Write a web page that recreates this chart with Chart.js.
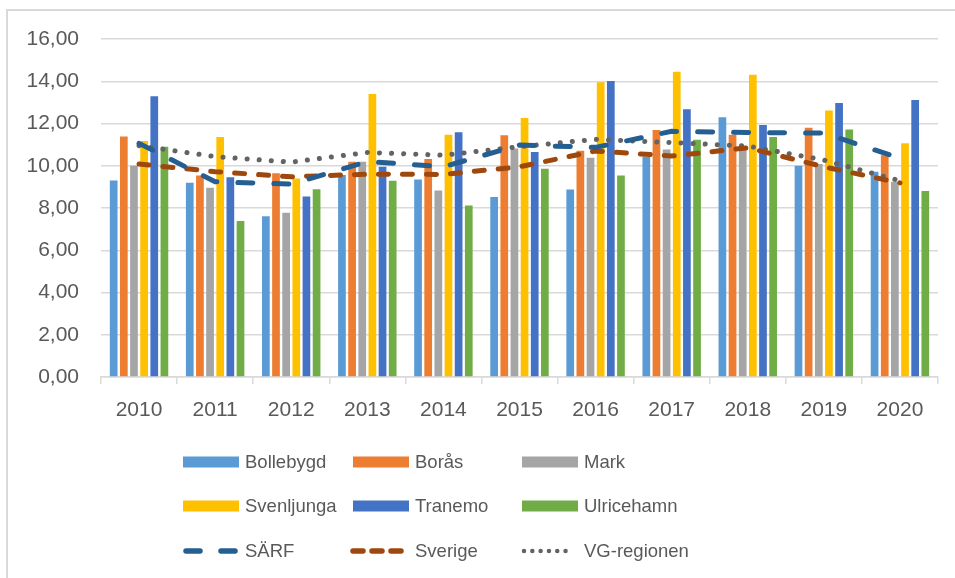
<!DOCTYPE html>
<html>
<head>
<meta charset="utf-8">
<script src="https://cdn.jsdelivr.net/npm/chart.js@4/dist/chart.umd.min.js"></script>
<style>
  body { margin: 0; background: #fff; overflow: hidden; font-family: "Liberation Sans", Arial, sans-serif; }
  #wrap { position: relative; width: 955px; height: 578px; }
  #frame { position: absolute; left: 6px; top: 9px; width: 2000px; height: 2000px;
           border-left: 2px solid #D9D9D9; border-top: 2px solid #D9D9D9; }
  #graf { position: absolute; left: 0; top: 0; }
  #legend { position: absolute; left: 0; top: 0; }
  .item { position: absolute; height: 24px; display: flex; align-items: center;
          font-size: 18.5px; color: #595959; white-space: nowrap; }
  .item svg { overflow: visible; margin-right: 6px; }
</style>
</head>
<body>
<div id="wrap">
  <div id="frame"></div>
  <canvas id="graf" width="955" height="578"></canvas>
  <div id="legend"></div>
</div>
<script>
  "use strict";

  const years = ['2010', '2011', '2012', '2013', '2014', '2015', '2016', '2017', '2018', '2019', '2020'];

  const bollebygd  = [9.30, 9.19, 7.61, 9.56, 9.35, 8.52, 8.88, 10.43, 12.29, 10.00, 9.72];
  const boras      = [11.39, 9.54, 9.64, 10.19, 10.32, 11.44, 10.71, 11.69, 11.47, 11.80, 10.50];
  const mark       = [10.00, 8.96, 7.77, 10.19, 8.83, 10.82, 10.38, 10.77, 10.74, 10.08, 9.24];
  const svenljunga = [11.17, 11.36, 9.40, 13.40, 11.47, 12.26, 13.95, 14.45, 14.31, 12.62, 11.06];
  const tranemo    = [13.29, 9.46, 8.55, 9.95, 11.58, 10.65, 14.01, 12.67, 11.93, 12.97, 13.11];
  const ulricehamn = [10.90, 7.38, 8.89, 9.29, 8.12, 9.86, 9.54, 11.23, 11.36, 11.72, 8.80];

  const sarf       = [11.06, 9.24, 9.13, 10.20, 9.95, 10.98, 10.87, 11.63, 11.57, 11.55, 10.35];
  const sverige    = [10.08, 9.72, 9.48, 9.60, 9.59, 9.95, 10.70, 10.46, 10.85, 9.95, 9.19];
  const vgRegionen = [10.95, 10.43, 10.17, 10.63, 10.50, 10.90, 11.25, 11.10, 10.93, 10.27, 9.29];

  const yTicks = [0, 2, 4, 6, 8, 10, 12, 14, 16];

  function barra(label, data, color) {
    return {
      type: 'bar', label: label, data: data, backgroundColor: color,
      borderWidth: 0, barPercentage: 0.76, categoryPercentage: 0.8, order: 2
    };
  }

  function linea(label, data, color, width, dash, legendDash) {
    return {
      type: 'line', label: label, data: data, borderColor: color, borderWidth: width,
      borderDash: dash, borderCapStyle: 'round', pointRadius: 0, fill: false,
      tension: 0, order: 1, legendDash: legendDash
    };
  }

  const datasets = [
    barra('Bollebygd', bollebygd, '#5B9BD5'),
    barra('Borås', boras, '#ED7D31'),
    barra('Mark', mark, '#A5A5A5'),
    barra('Svenljunga', svenljunga, '#FFC000'),
    barra('Tranemo', tranemo, '#4472C4'),
    barra('Ulricehamn', ulricehamn, '#70AD47'),
    linea('SÄRF', sarf, '#255E91', 5, [15, 21], { x1: 3, x2: 53, w: 5.5, dash: '14 21' }),
    linea('Sverige', sverige, '#9E480E', 5, [10, 14], { x1: 0, x2: 48, w: 5.5, dash: '10 9' }),
    linea('VG-regionen', vgRegionen, '#636363', 5, [0.1, 12], { x1: 2, x2: 44, w: 4.5, dash: '0.01 8.3' })
  ];

  new Chart(document.getElementById('graf').getContext('2d'), {
    data: { labels: years, datasets: datasets },
    options: {
      responsive: false,
      animation: false,
      devicePixelRatio: 1,
      layout: { padding: { left: 0, right: 17, top: 39, bottom: 151 } },
      plugins: { legend: { display: false }, tooltip: { enabled: false } },
      scales: {
        x: {
          grid: { drawOnChartArea: false, drawTicks: true, tickLength: 7, color: '#D9D9D9', lineWidth: 1.5 },
          border: { color: '#D9D9D9', width: 1.5 },
          ticks: { color: '#595959', font: { family: 'Liberation Sans', size: 21 }, padding: 14, maxRotation: 0 },
          afterFit: function (s) { s.height = 50; }
        },
        y: {
          min: 0, max: 16,
          afterBuildTicks: function (s) { s.ticks = yTicks.map(v => ({ value: v })); },
          ticks: {
            color: '#595959', font: { family: 'Liberation Sans', size: 21 }, padding: 22,
            callback: v => v.toFixed(2).replace('.', ',')
          },
          grid: { color: '#D9D9D9', lineWidth: 1.5, drawTicks: false },
          border: { display: false },
          afterFit: function (s) { s.width = 101; }
        }
      }
    }
  });

  // leyenda en 3 columnas, como en el original
  const colX = [183, 353, 522];
  const rowY = [462, 506, 551];
  const legend = document.getElementById('legend');
  const NS = 'http://www.w3.org/2000/svg';
  datasets.forEach(function (ds, i) {
    const item = document.createElement('div');
    item.className = 'item';
    item.style.left = colX[i % 3] + 'px';
    item.style.top = (rowY[Math.floor(i / 3)] - 12) + 'px';
    const svg = document.createElementNS(NS, 'svg');
    svg.setAttribute('width', '56');
    svg.setAttribute('height', '12');
    if (ds.type === 'bar') {
      const r = document.createElementNS(NS, 'rect');
      r.setAttribute('x', '0'); r.setAttribute('y', '0.5');
      r.setAttribute('width', '56'); r.setAttribute('height', '11');
      r.setAttribute('fill', ds.backgroundColor);
      svg.appendChild(r);
    } else {
      const d = ds.legendDash;
      const l = document.createElementNS(NS, 'line');
      l.setAttribute('x1', d.x1); l.setAttribute('x2', d.x2);
      l.setAttribute('y1', '6'); l.setAttribute('y2', '6');
      l.setAttribute('stroke', ds.borderColor);
      l.setAttribute('stroke-width', d.w);
      l.setAttribute('stroke-dasharray', d.dash);
      l.setAttribute('stroke-linecap', 'round');
      svg.appendChild(l);
    }
    item.appendChild(svg);
    const t = document.createElement('span');
    t.textContent = ds.label;
    item.appendChild(t);
    legend.appendChild(item);
  });
</script>
</body>
</html>
